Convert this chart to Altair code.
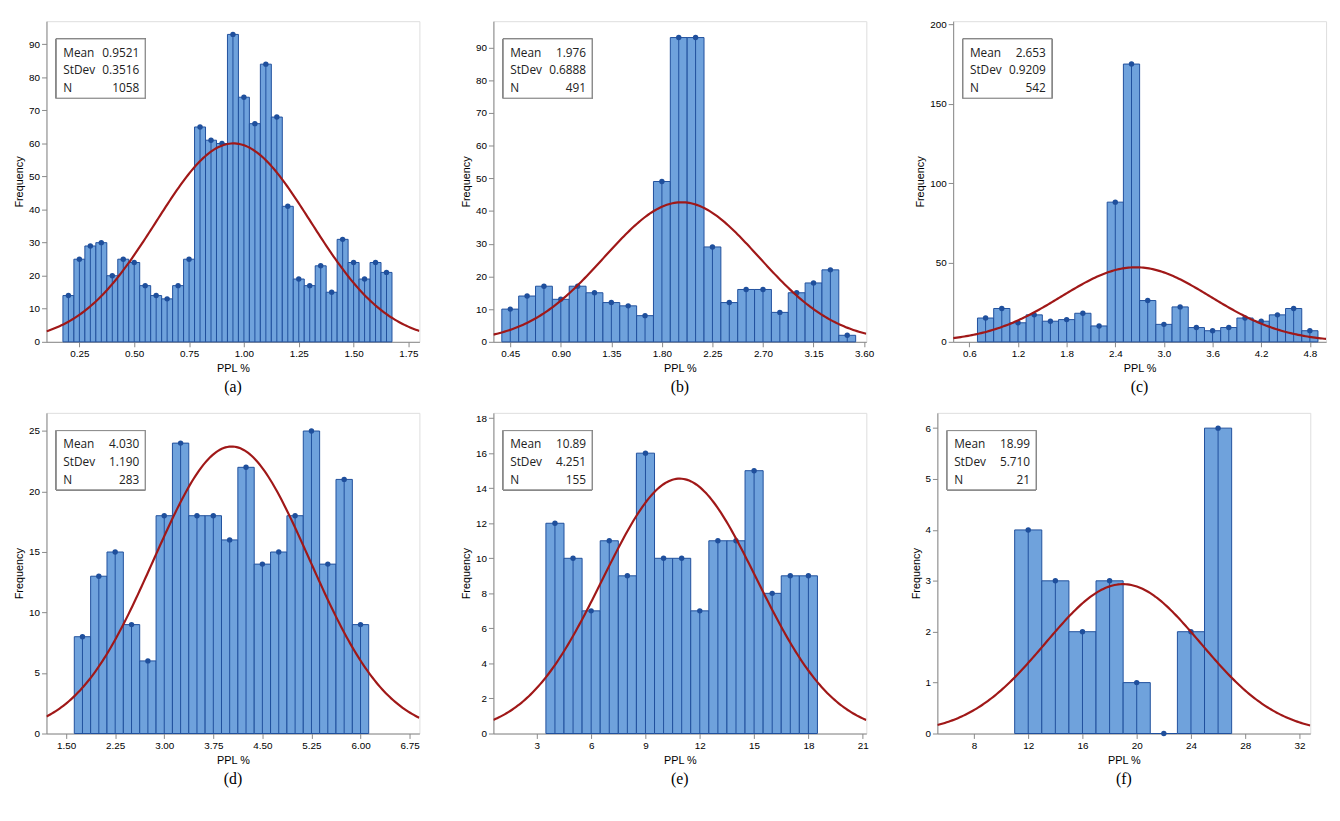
import math
import altair as alt
import pandas as pd

# panel data
a_centers = [0.20 + 0.05 * i for i in range(30)]
a_counts = [14, 25, 29, 30, 20, 25, 24, 17, 14, 13, 17, 25, 65, 61, 60, 93, 74, 66, 84, 68,
            41, 19, 17, 23, 15, 31, 24, 19, 24, 21]
b_centers = [0.45 + 0.15 * i for i in range(21)]
b_counts = [10, 14, 17, 13, 17, 15, 12, 11, 8, 49, 93, 93, 29, 12, 16, 16, 9, 15, 18, 22, 2]
c_centers = [0.8 + 0.2 * i for i in range(21)]
c_counts = [15, 21, 12, 17, 13, 14, 18, 10, 88, 175, 26, 11, 22, 9, 7, 9, 15, 13, 17, 21, 7]
d_centers = [1.75 + 0.25 * i for i in range(18)]
d_counts = [8, 13, 15, 9, 6, 18, 24, 18, 18, 16, 22, 14, 15, 18, 25, 14, 21, 9]
e_centers = list(range(4, 19))
e_counts = [12, 10, 7, 11, 9, 16, 10, 10, 7, 11, 11, 15, 8, 9, 9]
f_centers = [12, 14, 16, 18, 20, 22, 24, 26]
f_counts = [4, 3, 2, 3, 1, 0, 2, 6]

W, H = 378, 325
FONT = "Open Sans"


def panel(centers, counts, bw, mean, sd, n, mean_txt, sd_txt, xdom, ydom, xticks, yticks, xfmt, cap):
    df = pd.DataFrame({"c": centers, "n": counts})
    df["x0"] = df["c"] - bw / 2
    df["x1"] = df["c"] + bw / 2
    xs = [xdom[0] + (xdom[1] - xdom[0]) * i / 200 for i in range(201)]
    fit = pd.DataFrame({"x": xs, "y": [n * bw / (sd * math.sqrt(2 * math.pi)) *
                                       math.exp(-0.5 * ((v - mean) / sd) ** 2) for v in xs]})
    xs_ = alt.Scale(domain=xdom, nice=False, zero=False)
    ys_ = alt.Scale(domain=ydom, nice=False)
    xax = alt.Axis(values=xticks, format=xfmt, grid=False, title="PPL %", labelOverlap=False,
                   titleFontWeight="normal")
    yax = alt.Axis(values=yticks, format="d", grid=False, title="Frequency", labelOverlap=False,
                   titleFontWeight="normal")
    X = lambda f: alt.X(f, scale=xs_, axis=xax)
    Y = lambda f: alt.Y(f, scale=ys_, axis=yax)
    base = alt.Chart(df)
    bars = base.mark_rect(fill="#6fa2dc", stroke="#1f4f9c", strokeWidth=1).encode(
        x=X("x0:Q"), x2="x1", y=Y("n:Q"), y2=alt.datum(0))
    drops = base.mark_rule(color="#1f4f9c", strokeWidth=1).encode(x=X("c:Q"), y=Y("n:Q"), y2=alt.datum(0))
    dots = base.mark_circle(color="#1f4f9c", size=30, opacity=1).encode(x=X("c:Q"), y=Y("n:Q"))
    curve = alt.Chart(fit).mark_line(color="#a01818", strokeWidth=2.2, clip=True).encode(
        x=X("x:Q"), y=Y("y:Q"))
    box = alt.Chart(df).mark_rect(fill="white", stroke="#888", strokeWidth=1).encode(
        x=alt.value(10), x2=alt.value(100), y=alt.value(18), y2=alt.value(78))
    labels = pd.DataFrame({"k": ["Mean", "StDev", "N"], "v": [mean_txt, sd_txt, str(n)],
                           "yy": [32, 50, 68]})
    keys = alt.Chart(labels).mark_text(align="left", font=FONT, fontSize=12, color="#222").encode(
        x=alt.value(17), y=alt.Y("yy:Q", scale=None), text="k")
    vals = alt.Chart(labels).mark_text(align="right", font=FONT, fontSize=12, color="#222").encode(
        x=alt.value(94), y=alt.Y("yy:Q", scale=None), text="v")
    return alt.layer(bars, drops, dots, curve, box, keys, vals).properties(
        width=W, height=H,
        title=alt.TitleParams(cap, orient="bottom", font="Liberation Serif", fontSize=16,
                              fontWeight="normal", offset=6))


pa = panel(a_centers, a_counts, 0.05, 0.9521, 0.3516, 1058, "0.9521", "0.3516",
           [0.1, 1.8], [0, 97], [0.25, 0.5, 0.75, 1.0, 1.25, 1.5, 1.75], list(range(0, 91, 10)), ".2f", "(a)")
pb = panel(b_centers, b_counts, 0.15, 1.976, 0.6888, 491, "1.976", "0.6888",
           [0.3, 3.62], [0, 98], [0.45, 0.9, 1.35, 1.8, 2.25, 2.7, 3.15, 3.6], list(range(0, 91, 10)), ".2f", "(b)")
pc = panel(c_centers, c_counts, 0.2, 2.653, 0.9209, 542, "2.653", "0.9209",
           [0.4, 5.0], [0, 202], [0.6, 1.2, 1.8, 2.4, 3.0, 3.6, 4.2, 4.8], [0, 50, 100, 150, 200], ".1f", "(c)")
pd_ = panel(d_centers, d_counts, 0.25, 4.030, 1.190, 283, "4.030", "1.190",
            [1.2, 6.9], [0, 26.5], [1.5, 2.25, 3.0, 3.75, 4.5, 5.25, 6.0, 6.75], [0, 5, 10, 15, 20, 25], ".2f", "(d)")
pe = panel(e_centers, e_counts, 1, 10.89, 4.251, 155, "10.89", "4.251",
           [0.6, 21.2], [0, 18.3], [3, 6, 9, 12, 15, 18, 21], list(range(0, 19, 2)), "d", "(e)")
pf = panel(f_centers, f_counts, 2, 18.99, 5.710, 21, "18.99", "5.710",
           [5.3, 32.8], [0, 6.3], [8, 12, 16, 20, 24, 28, 32], list(range(0, 7)), "d", "(f)")

chart = alt.vconcat(
    alt.hconcat(pa, pb, pc, spacing=40),
    alt.hconcat(pd_, pe, pf, spacing=40),
    spacing=16,
).configure_view(stroke="#aaa").configure_axis(
    labelFont=FONT, titleFont=FONT, labelFontSize=11, titleFontSize=11,
    labelColor="#222", titleColor="#222", domainColor="#999", tickColor="#999",
).configure(background="white")

chart.save("out.html", embed_options={"renderer": "svg", "actions": False})
